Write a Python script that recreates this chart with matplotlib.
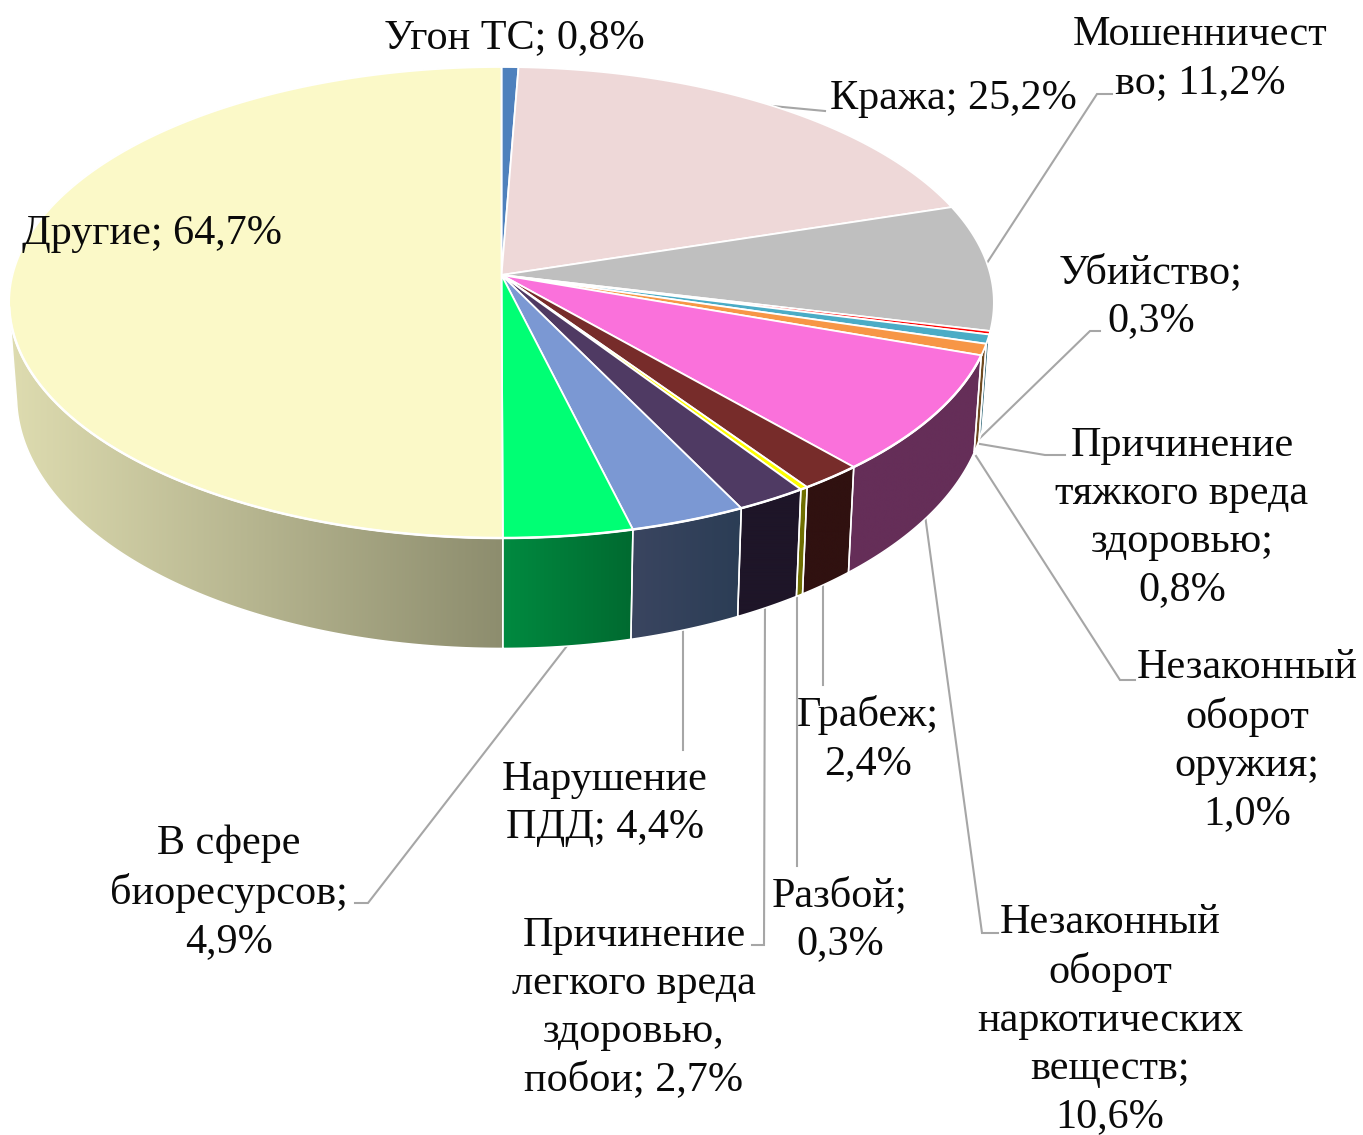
import numpy as np
import matplotlib
matplotlib.use('Agg')
import matplotlib.pyplot as plt
from matplotlib.colors import LinearSegmentedColormap
from matplotlib.patches import Polygon

plt.rcParams['font.family'] = ['Liberation Serif', 'DejaVu Serif']

# Data
values = [0.8, 25.2, 11.2, 0.3, 0.8, 1.0, 10.6, 2.4, 0.3, 2.7, 4.4, 4.9, 64.7]
labels = ['Угон ТС; 0,8%', 'Кража; 25,2%', 'Мошенничест\nво; 11,2%', 'Убийство;\n0,3%',
          'Причинение\nтяжкого вреда\nздоровью;\n0,8%', 'Незаконный\nоборот\nоружия;\n1,0%',
          'Незаконный\nоборот\nнаркотических\nвеществ;\n10,6%', 'Грабеж;\n2,4%', 'Разбой;\n0,3%',
          'Причинение\nлегкого вреда\nздоровью,\nпобои; 2,7%', 'Нарушение\nПДД; 4,4%',
          'В сфере\nбиоресурсов;\n4,9%', 'Другие; 64,7%']
top_colors = ['#4f81bd', '#eed8d8', '#bfbfbf', '#ff0000', '#4bacc6', '#f79646', '#fa71db',
              '#772c2a', '#ffff00', '#4f3a63', '#7b98d3', '#00ff74', '#fbf9c8']
# left and right colours of the side gradient, None = side not visible
side_colors = [None, None, None, None, ('#1f5a6c', '#1f5a6c'), ('#6e4a20', '#6e4a20'),
               ('#652e58', '#652e58'), ('#301110', '#301110'), ('#6f6f00', '#6f6f00'),
               ('#1e1528', '#1e1528'), ('#3a4560', '#2b3d55'), ('#008a40', '#006a30'),
               ('#dedcb0', '#8d8d6e')]

# Label centres in pixels
label_x = [514, 953, 1200, 1151, 1182, 1247, 1110, 868, 840, 634, 605, 229, 152]
label_y = [38, 99, 59, 297, 518, 741, 1020, 739, 920, 1008, 804, 893, 234]

# Leader lines
leaders = [
    ([772, 825], [106, 111]),
    ([985, 1097, 1112], [266, 94, 94]),
    ([980, 1090, 1100], [438, 331, 331]),
    ([980, 1045, 1065], [444, 455, 455]),
    ([976, 1120, 1135], [456, 680, 680]),
    ([925, 982, 998], [515, 933, 933]),
    ([823, 823], [585, 685]),
    ([797, 797], [590, 866]),
    ([765, 764, 752], [604, 945, 945]),
    ([683, 683], [625, 750]),
    ([570, 368, 355], [642, 903, 903]),
]

CX = 501.5
K = 0.1168


def project(theta, scale_x, b, cy):
    # circle seen in perspective, theta clockwise from the top
    u = np.sin(theta)
    v = np.cos(theta)
    w = 1 + K * v
    return CX + 489 * scale_x * u / w, cy - b * v / w


fig = plt.figure(figsize=(13.63, 11.35), dpi=100)
ax = fig.add_axes([0, 0, 1, 1])

fractions = np.array(values) / sum(values)
edges = np.concatenate([[0], np.cumsum(fractions)]) * 2 * np.pi
side_end = np.radians(262)
side_start = np.radians(103.5)

# Sides
for i in range(len(values)):
    if side_colors[i] is None:
        continue
    t0 = max(edges[i], side_start)
    t1 = min(edges[i + 1], side_end)
    t = np.linspace(t0, t1, 150)
    x_top, y_top = project(t, 1, 232.3, 275)
    x_low, y_low = project(t, 0.985, 249, 366.5)
    pts = np.column_stack([np.r_[x_top, x_low[::-1]], np.r_[y_top, y_low[::-1]]])
    poly = Polygon(pts, closed=True, fc='none', ec='none')
    ax.add_patch(poly)
    cmap = LinearSegmentedColormap.from_list('side', side_colors[i])
    grad = np.linspace(0, 1, 256).reshape(1, -1)
    im = ax.imshow(grad, cmap=cmap, aspect='auto', zorder=2,
                   extent=[pts[:, 0].min(), pts[:, 0].max(), pts[:, 1].max(), pts[:, 1].min()])
    im.set_clip_path(poly)
    ax.add_patch(Polygon(pts, closed=True, fc='none', ec='white', lw=1.1, zorder=3))

# Top
for i in range(len(values)):
    t = np.linspace(edges[i], edges[i + 1], max(int((edges[i + 1] - edges[i]) * 120), 3))
    x, y = project(t, 1, 232.3, 275)
    pts = np.column_stack([np.r_[CX, x], np.r_[275, y]])
    ax.add_patch(Polygon(pts, closed=True, fc=top_colors[i], ec='white', lw=1.3, zorder=4))

# Front rim is a bit heavier
t = np.linspace(edges[6], side_end, 300)
x, y = project(t, 1, 232.3, 275)
ax.plot(x, y, color='white', lw=1.8, zorder=4.5)

for lx, ly in leaders:
    ax.plot(lx, ly, color='#a6a6a6', lw=1.5, zorder=1, solid_joinstyle='miter')

for i in range(len(labels)):
    ax.text(label_x[i], label_y[i], labels[i], ha='center', va='center', fontsize=30.3,
            color='#0a0a0a', linespacing=1.32, zorder=5)

ax.set_xlim(0, 1363)
ax.set_ylim(1135, 0)
ax.axis('off')
fig.savefig('out.png', dpi=100, facecolor='white')
